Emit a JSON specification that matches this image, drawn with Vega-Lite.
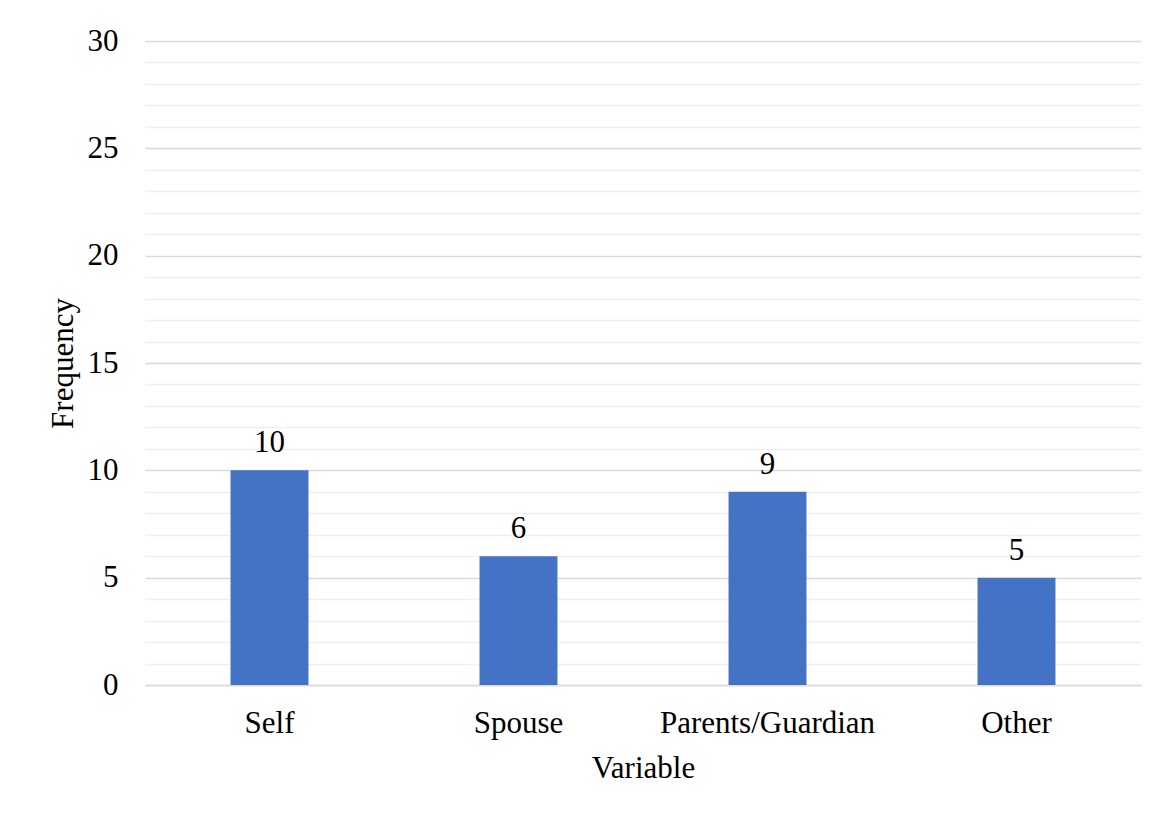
{
  "$schema": "https://vega.github.io/schema/vega-lite/v6.json",
  "width": 996,
  "height": 644,
  "autosize": {"type": "none"},
  "padding": {"left": 145, "top": 41, "right": 24, "bottom": 128},
  "background": "white",
  "config": {
    "view": {"stroke": null},
    "font": "Liberation Serif"
  },
  "data": {
    "values": [
      {"Variable": "Self", "Frequency": 10},
      {"Variable": "Spouse", "Frequency": 6},
      {"Variable": "Parents/Guardian", "Frequency": 9},
      {"Variable": "Other", "Frequency": 5}
    ]
  },
  "encoding": {
    "x": {
      "field": "Variable",
      "type": "nominal",
      "sort": null,
      "scale": {"paddingInner": 0.687, "paddingOuter": 0.3435},
      "axis": {
        "labelAngle": 0,
        "labelFont": "Liberation Serif",
        "labelFontSize": 31,
        "labelColor": "black",
        "labelPadding": 23,
        "labelLimit": 0,
        "ticks": false,
        "domainColor": "#d9d9d9",
        "domainWidth": 1.5,
        "title": "Variable",
        "titleFont": "Liberation Serif",
        "titleFontSize": 31,
        "titleFontWeight": "normal",
        "titleColor": "black",
        "titlePadding": 15
      }
    },
    "y": {
      "field": "Frequency",
      "type": "quantitative",
      "scale": {"domain": [0, 30], "nice": false},
      "axis": {
        "values": [0,1,2,3,4,5,6,7,8,9,10,11,12,13,14,15,16,17,18,19,20,21,22,23,24,25,26,27,28,29,30],
        "labelExpr": "datum.value % 5 === 0 ? datum.label : ''",
        "labelFont": "Liberation Serif",
        "labelFontSize": 31,
        "labelColor": "black",
        "labelPadding": 27,
        "ticks": false,
        "domain": false,
        "grid": true,
        "gridColor": {"condition": {"test": "datum.value % 5 === 0", "value": "#d9d9d9"}, "value": "#f0f0f0"},
        "gridWidth": 1.5,
        "title": "Frequency",
        "titleFont": "Liberation Serif",
        "titleFontSize": 31,
        "titleFontWeight": "normal",
        "titleColor": "black",
        "titlePadding": 8
      }
    }
  },
  "layer": [
    {"mark": {"type": "bar", "color": "#4472c4"}},
    {
      "mark": {"type": "text", "baseline": "bottom", "dy": -11, "fontSize": 31, "font": "Liberation Serif", "color": "black"},
      "encoding": {"text": {"field": "Frequency", "type": "quantitative"}}
    }
  ]
}
